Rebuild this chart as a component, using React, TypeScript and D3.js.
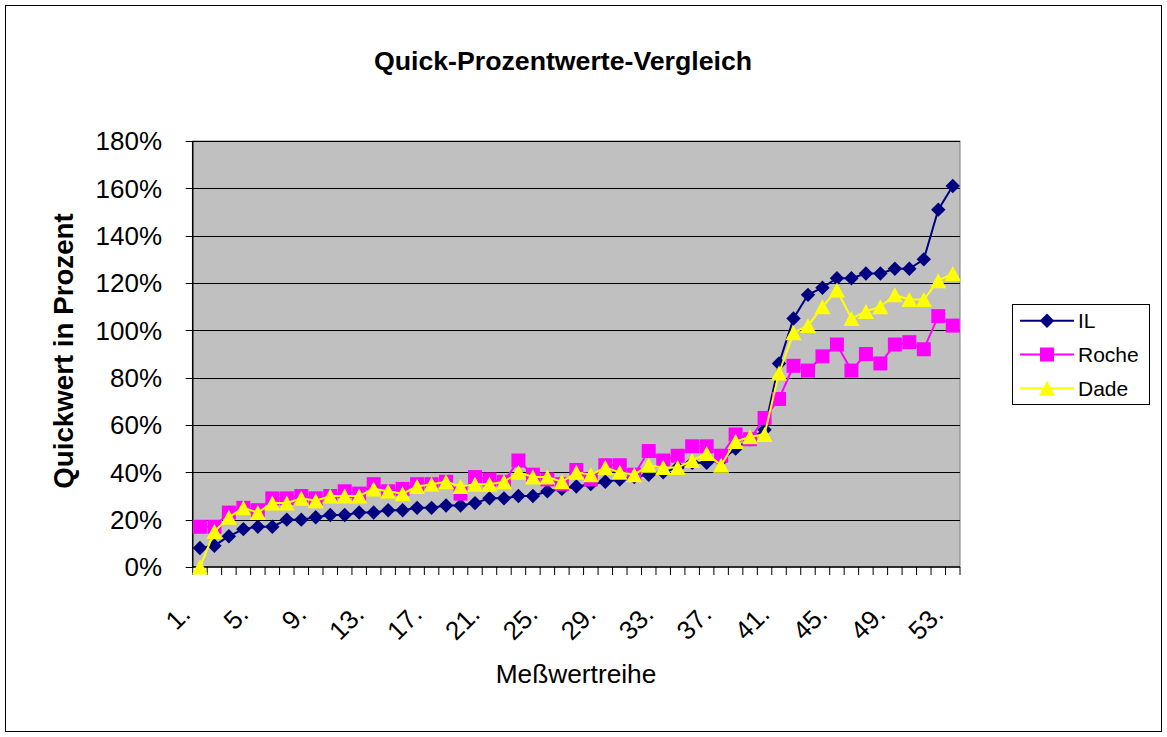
import React from "react";
import * as d3 from "d3";

const categories: number[] = d3.range(1, 54);
const ilValues: number[] = [8, 9, 13, 16, 17, 17, 20, 20, 21, 22, 22, 23, 23, 24, 24, 25, 25, 26, 26, 27, 29, 29, 30, 30, 32, 33, 34, 35, 36, 37, 38, 39, 40, 42, 44, 44, 45, 50, 54, 58, 86, 105, 115, 118, 122, 122, 124, 124, 126, 126, 130, 151, 161];
const rocheValues: number[] = [17, 17, 23, 25, 24, 29, 29, 30, 29, 30, 32, 31, 35, 32, 33, 35, 35, 36, 31, 38, 37, 36, 45, 39, 37, 35, 41, 37, 43, 43, 39, 49, 45, 47, 51, 51, 47, 56, 54, 63, 71, 85, 83, 89, 94, 83, 90, 86, 94, 95, 92, 106, 102];
const dadeValues: number[] = [0, 15, 21, 25, 23, 27, 27, 29, 28, 30, 30, 30, 33, 32, 31, 34, 35, 36, 34, 35, 35, 36, 40, 38, 38, 36, 40, 39, 42, 40, 39, 43, 42, 42, 45, 48, 43, 53, 55, 56, 82, 99, 102, 110, 117, 105, 108, 110, 115, 113, 113, 121, 124];
const yTicks: number[] = [0, 20, 40, 60, 80, 100, 120, 140, 160, 180];
const xTickLabels: number[] = categories.filter((c) => (c - 1) % 4 === 0);
const seriesNames: string[] = ["IL", "Roche", "Dade"];
const seriesColors: string[] = ["#000080", "#FF00FF", "#FFFF00"];

const FONT = "'Liberation Sans', Arial, sans-serif";

const L = 192.7, R = 960, T = 141, B = 567;

function Marker({ kind, x, y, color }: { kind: number; x: number; y: number; color: string }) {
  if (kind === 0) {
    const s = 7.2;
    return <path d={`M${x},${y - s}L${x + s},${y}L${x},${y + s}L${x - s},${y}Z`} fill={color} />;
  }
  if (kind === 1) {
    const s = 7;
    return <rect x={x - s} y={y - s} width={2 * s} height={2 * s} fill={color} />;
  }
  const w = 8, h = 7.5;
  return <path d={`M${x},${y - h}L${x + w},${y + h}L${x - w},${y + h}Z`} fill={color} />;
}

export default function App() {
  const x = d3.scaleBand<number>().domain(categories).range([L, R]).paddingInner(0).paddingOuter(0);
  const bw = x.bandwidth();
  const cx = (c: number) => (x(c) as number) + bw / 2;
  const y = d3.scaleLinear().domain([0, 180]).range([B, T]);
  const allSeries = [ilValues, rocheValues, dadeValues];
  const line = d3
    .line<number>()
    .x((_, i) => cx(categories[i]))
    .y((d) => y(d));

  const boundaries = d3.range(0, categories.length + 1).map((i) => L + i * bw);

  return (
    <svg
      width={1167}
      height={737}
      style={{ position: "absolute", left: 0, top: 0, background: "#fff" }}
      fontFamily={FONT}
    >
      <rect x={0} y={0} width={1167} height={737} fill="#fff" />
      <rect x={5.5} y={5.5} width={1156} height={726} fill="none" stroke="#000" strokeWidth={1} />
      <text x={563} y={70} textAnchor="middle" fontSize={26.7} fontWeight="bold">
        Quick-Prozentwerte-Vergleich
      </text>

      {/* plot area */}
      <rect x={L} y={T} width={R - L} height={B - T} fill="#C0C0C0" stroke="#808080" strokeWidth={1} />
      {yTicks.filter((t) => t > 0).map((t) => (
        <line key={t} x1={L} x2={R} y1={Math.round(y(t)) + 0.5} y2={Math.round(y(t)) + 0.5} stroke="#000" strokeWidth={1} />
      ))}

      {/* axes */}
      <line x1={L} x2={L} y1={T} y2={B} stroke="#000" strokeWidth={1.5} />
      <line x1={L} x2={R} y1={B} y2={B} stroke="#000" strokeWidth={1.5} />
      {yTicks.map((t) => (
        <g key={t}>
          <line x1={L - 7} x2={L} y1={Math.round(y(t)) + 0.5} y2={Math.round(y(t)) + 0.5} stroke="#000" strokeWidth={1} />
          <text x={162} y={y(t)} dy="0.36em" textAnchor="end" fontSize={26}>
            {t}%
          </text>
        </g>
      ))}
      {boundaries.map((bx, i) => (
        <line key={i} x1={bx} x2={bx} y1={B} y2={B + 8} stroke="#000" strokeWidth={1} />
      ))}
      {xTickLabels.map((c) => (
        <text
          key={c}
          transform={`translate(${cx(c) - 8},${616}) rotate(-45)`}
          textAnchor="end"
          fontSize={26}
        >
          {c}.
        </text>
      ))}

      {/* series */}
      {allSeries.map((vals, si) => (
        <g key={si}>
          <path d={line(vals) as string} fill="none" stroke={seriesColors[si]} strokeWidth={2} />
          {vals.map((v, i) => (
            <Marker key={i} kind={si} x={cx(categories[i])} y={y(v)} color={seriesColors[si]} />
          ))}
        </g>
      ))}

      {/* axis titles */}
      <text
        transform={`translate(73,351) rotate(-90)`}
        textAnchor="middle"
        fontSize={27.7}
        fontWeight="bold"
      >
        Quickwert in Prozent
      </text>
      <text x={576} y={683} textAnchor="middle" fontSize={26.3}>
        Meßwertreihe
      </text>

      {/* legend */}
      <rect x={1012.5} y={304.5} width={137} height={100} fill="#fff" stroke="#000" strokeWidth={1} />
      {seriesNames.map((n, i) => {
        const ly = 320.7 + i * 33.8;
        return (
          <g key={n}>
            <line x1={1020} x2={1074} y1={ly} y2={ly} stroke={seriesColors[i]} strokeWidth={2} />
            <Marker kind={i} x={1047} y={ly} color={seriesColors[i]} />
            <text x={1078} y={ly} dy="0.36em" fontSize={21}>
              {n}
            </text>
          </g>
        );
      })}
    </svg>
  );
}
